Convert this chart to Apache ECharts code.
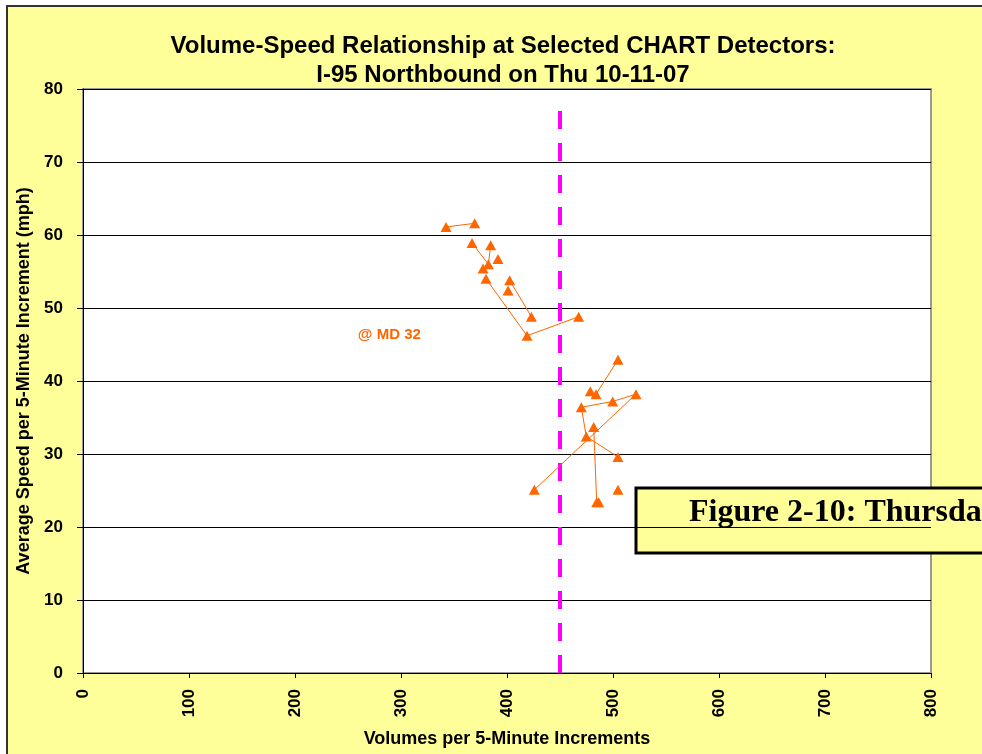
<!DOCTYPE html>
<html>
<head>
<meta charset="utf-8">
<script src="https://cdn.jsdelivr.net/npm/echarts@6/dist/echarts.min.js"></script>
<style>
  html, body { margin: 0; padding: 0; background: #fff; }
  #chart { width: 982px; height: 754px; }
</style>
</head>
<body>
<div id="chart"></div>
<script>
// volume / speed readings, time order; null breaks the line
const volSpeed = [
    [342.5, 61.1], [369.5, 61.6], null,
    [367, 58.9], [382.4, 56.0], [384.6, 58.6], null,
    [380.2, 54.0], [418.9, 46.2], [467.6, 48.8], null,
    [402.5, 53.8], [423, 48.8], null,
    [377.4, 55.4], null,
    [391.5, 56.7], null,
    [401, 52.4], null,
    [504.7, 42.9], [484, 38.2], null,
    [504.7, 29.6], [474.8, 32.4], [470.1, 36.4], [499.7, 37.2], [521.7, 38.2], [425.8, 25.1], null,
    [481.8, 33.7], [484.6, 23.4], null,
    [478.6, 38.6], null,
    [504.7, 25.1], null,
    [486.5, 23.4]
];

// capacity reference line
const refVolume = 450;
const refSpeedRange = [0, 77];

// detector label position
const detectorName = '@ MD 32';
const detectorLabelAt = [289, 46.3];

const xTicks = [0, 800, 100];
const yTicks = [0, 80, 10];

const FONT = "'Liberation Sans', Arial, sans-serif";
const ORANGE = '#FF6600';

var chart = echarts.init(document.getElementById('chart'));

const option = {
    backgroundColor: '#ffffff',
    animation: false,
    title: {
        text: 'Volume-Speed Relationship at Selected CHART Detectors:\nI-95 Northbound on Thu 10-11-07',
        left: 498,
        textAlign: 'center',
        top: 27,
        textStyle: {
            fontFamily: FONT,
            fontSize: 24,
            fontWeight: 'bold',
            color: '#000',
            lineHeight: 29
        }
    },
    grid: {
        left: 83,
        right: 51,
        top: 89,
        bottom: 81,
        outerBoundsMode: 'none',
        show: true,
        backgroundColor: '#ffffff',
        borderColor: '#999999',
        borderWidth: 2
    },
    xAxis: {
        type: 'value',
        min: xTicks[0],
        max: xTicks[1],
        interval: xTicks[2],
        name: 'Volumes per 5-Minute Increments',
        nameLocation: 'middle',
        nameGap: 57,
        nameTextStyle: { fontFamily: FONT, fontSize: 18, fontWeight: 'bold', color: '#000' },
        axisLine: { show: true, onZero: false, lineStyle: { color: '#000', width: 1 } },
        axisTick: { show: true, inside: false, length: 5, lineStyle: { color: '#000' } },
        axisLabel: {
            rotate: 90,
            margin: 16,
            fontFamily: FONT,
            fontSize: 17,
            fontWeight: 'bold',
            color: '#000'
        },
        splitLine: { show: false }
    },
    yAxis: {
        type: 'value',
        min: yTicks[0],
        max: yTicks[1],
        interval: yTicks[2],
        name: 'Average Speed per 5-Minute Increment (mph)',
        nameLocation: 'middle',
        nameGap: 50,
        nameTextStyle: { fontFamily: FONT, fontSize: 18, fontWeight: 'bold', color: '#000' },
        axisLine: { show: true, onZero: false, lineStyle: { color: '#000', width: 1 } },
        axisTick: { show: true, length: 6, lineStyle: { color: '#000' } },
        axisLabel: {
            margin: 20,
            fontFamily: FONT,
            fontSize: 17,
            fontWeight: 'bold',
            color: '#000'
        },
        splitLine: { show: true, lineStyle: { color: '#000', width: 1 } }
    },
    series: [
        {
            name: 'reference',
            type: 'line',
            data: refSpeedRange.map(s => [refVolume, s]),
            symbol: 'none',
            lineStyle: { color: '#FF00FF', width: 4, type: [18, 14] },
            clip: false,
            z: 3
        },
        {
            name: detectorName,
            type: 'line',
            data: volSpeed.map(p => p === null ? '-' : p),
            connectNulls: false,
            symbol: 'triangle',
            symbolSize: [11, 10],
            itemStyle: { color: ORANGE },
            lineStyle: { color: ORANGE, width: 1 },
            z: 4,
            markPoint: {
                symbol: 'circle',
                symbolSize: 0,
                data: [{ coord: detectorLabelAt }],
                label: {
                    show: true,
                    formatter: detectorName,
                    position: 'inside',
                    fontFamily: FONT,
                    fontSize: 15,
                    fontWeight: 'bold',
                    color: ORANGE
                }
            }
        }
    ],
    graphic: [
        {
            type: 'rect',
            z: -10,
            shape: { x: 7, y: 6, width: 1200, height: 1000 },
            style: { fill: '#FFFF99', stroke: '#333333', lineWidth: 2 }
        },
        {
            type: 'group',
            z: 100,
            children: [
                {
                    type: 'rect',
                    shape: { x: 636, y: 488, width: 500, height: 65 },
                    style: { fill: '#FFFF99', stroke: '#000', lineWidth: 3 }
                },
                {
                    type: 'text',
                    x: 689,
                    y: 513,
                    style: {
                        text: 'Figure 2-10: Thursday',
                        fontFamily: "'Liberation Serif', 'Times New Roman', serif",
                        fontSize: 32,
                        fontWeight: 'bold',
                        fill: '#000',
                        textVerticalAlign: 'middle'
                    }
                }
            ]
        }
    ]
};

chart.setOption(option);
</script>
</body>
</html>
